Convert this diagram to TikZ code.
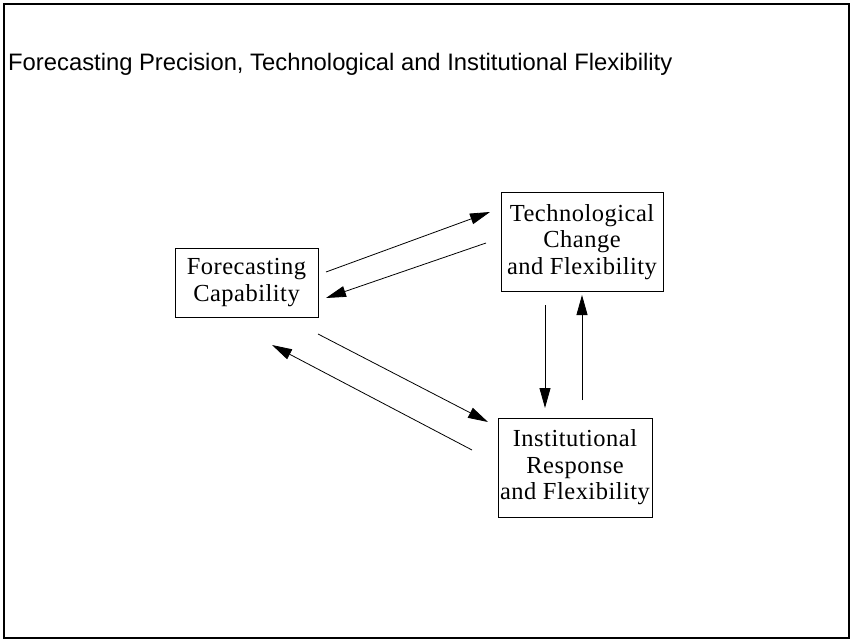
\documentclass[tikz,border=0pt]{standalone}
\usepackage{fontspec}
\setmainfont[LetterSpace=2]{Liberation Serif}
\setsansfont{Liberation Sans}
\usetikzlibrary{arrows.meta}
\begin{document}
\begin{tikzpicture}[x=1pt,y=-1pt,
  box/.style={draw,line width=0.9pt,align=center,inner sep=0pt,
    font=\fontsize{24.5}{26.5}\selectfont},
  link/.style={line width=0.8pt,-{Triangle[length=20pt,width=11pt]}}]
\useasboundingbox (0,0) rectangle (853,644);
% frame
\draw[line width=1.3pt] (4,4) rectangle (849,638);
% heading
\node[anchor=base west,inner sep=0pt,font=\sffamily\fontsize{23.8}{26}\selectfont] (title) at (8,71)
  {Forecasting Precision, Technological and Institutional Flexibility};
% boxes
\node[box,minimum width=143pt,minimum height=69pt] (fc) at (246.5,282.5)
  {Forecasting\\Capability};
\node[box,minimum width=162pt,minimum height=99pt] (tc) at (582,242)
  {Technological\\Change\\and Flexibility};
\node[box,minimum width=154pt,minimum height=99pt] (ir) at (575,467.5)
  {Institutional\\Response\\and Flexibility};
% connectors
\coordinate (a1) at (326,272); \coordinate (a2) at (490,212);
\coordinate (b1) at (486,243); \coordinate (b2) at (326,298);
\coordinate (c1) at (318,334); \coordinate (c2) at (488,422);
\coordinate (d1) at (472,450); \coordinate (d2) at (272,345);
\coordinate (e1) at (545,305); \coordinate (e2) at (545,408);
\coordinate (f1) at (582,400); \coordinate (f2) at (582,295);
\draw[link] (a1) -- (a2);
\draw[link] (b1) -- (b2);
\draw[link] (c1) -- (c2);
\draw[link] (d1) -- (d2);
\draw[link] (e1) -- (e2);
\draw[link] (f1) -- (f2);
\end{tikzpicture}
\end{document}
